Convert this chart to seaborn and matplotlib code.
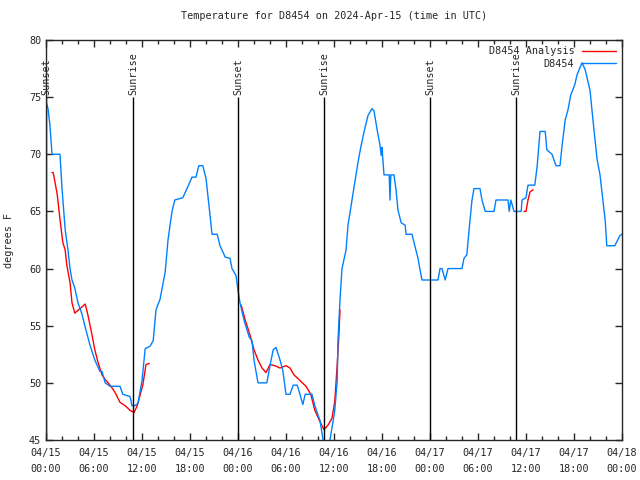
import matplotlib
matplotlib.use("Agg")
import matplotlib.pyplot as plt
from matplotlib.lines import Line2D
import seaborn as sns
import pandas as pd
import numpy as np

# hours since 2024-04-15 00:00 UTC
obs_hours = [0.0, 0.25, 0.5, 0.75, 1.75, 2.0, 2.4, 2.75, 3.0, 3.25, 3.6, 4.0, 4.5, 5.0, 5.5, 6.1, 6.75,
             7.0, 7.4, 8.0, 9.25, 9.6, 10.5, 10.75, 11.1, 11.5, 12.0, 12.4, 13.0, 13.4, 13.75, 14.25,
             14.9, 15.25, 15.75, 16.1, 17.1, 17.75, 18.25, 18.75, 19.1, 19.6, 20.0, 20.5, 20.75, 21.4,
             21.75, 22.4, 23.0, 23.25, 23.75, 24.0, 24.25, 24.75, 25.4, 25.75, 26.0, 26.5, 27.6, 28.0,
             28.4, 28.75, 29.25, 29.6, 30.0, 30.5, 30.9, 31.4, 31.75, 32.1, 32.4, 33.25, 33.6, 34.0,
             34.25, 34.5, 34.75, 35.1, 35.5, 35.9, 36.1, 36.4, 36.5, 36.75, 37.0, 37.5, 37.75, 38.25,
             38.6, 39.0, 39.4, 39.9, 40.25, 40.75, 41.0, 41.4, 41.75, 41.9, 42.0, 42.25, 42.9, 43.0,
             43.1, 43.5, 43.75, 44.0, 44.4, 44.9, 45.0, 45.75, 46.1, 46.5, 46.75, 47.0, 49.0, 49.25,
             49.5, 49.9, 50.25, 52.0, 52.25, 52.6, 52.9, 53.25, 53.5, 54.25, 54.5, 54.9, 56.0, 56.25,
             57.75, 57.9, 58.1, 58.5, 59.4, 59.5, 60.0, 60.25, 61.1, 61.4, 61.75, 62.4, 62.6, 63.25,
             63.75, 64.25, 64.5, 64.9, 65.25, 65.6, 66.1, 66.4, 67.0, 67.4, 68.0, 68.5, 68.9, 69.25,
             69.6, 69.9, 70.1, 71.1, 71.75, 72.0]
obs_temp = [74.6, 74, 72.5, 70, 70, 67, 63.4, 61.6, 60, 59, 58.3, 57, 56, 54.6, 53.3, 52, 51,
            51, 50, 49.7, 49.7, 49, 48.8, 48, 48, 48.2, 50.2, 53, 53.2, 53.7, 56.4, 57.3,
            59.7, 62.5, 65, 66, 66.2, 67.2, 68, 68, 69, 69, 67.9, 64.7, 63, 63,
            62, 61, 60.9, 60, 59.4, 58.1, 57, 55.5, 54, 53.7, 52, 50, 50, 51.5,
            52.9, 53.1, 52, 51.1, 49, 49, 49.8, 49.8, 49, 48.1, 49, 49, 48, 47.2,
            46.7, 45.6, 44.5, 44, 45, 46.7, 47.6, 50.2, 53.7, 57.3, 60, 61.6, 63.8, 66,
            67.5, 69.3, 70.8, 72.4, 73.4, 74, 73.8, 72.1, 70.8, 69.9, 70.6, 68.2, 68.2, 66,
            68.2, 68.2, 66.9, 65.1, 64, 63.8, 63, 63, 62, 60.9, 59.9, 59, 59, 60,
            60, 59, 60, 60, 60.9, 61.2, 63.5, 66, 67, 67, 66, 65, 65, 66,
            66, 65, 66, 65, 65, 66, 66.2, 67.3, 67.3, 69, 72, 72, 70.4, 70,
            69, 69, 70.7, 73, 73.9, 75.2, 76.1, 77, 78, 77.4, 75.6, 72.1, 69.5, 68.2,
            66, 64.2, 62, 62, 62.9, 63]

# analysis runs (three separate pieces)
ana_segment = [1] * 29 + [2] * 25 + [3] * 5
ana_hours = [0.75, 0.9, 1.4, 1.75, 2.1, 2.4, 2.6, 3.0, 3.25, 3.6, 4.1, 4.9, 5.25, 5.75, 6.1,
             6.5, 7.0, 7.4, 8.0, 8.6, 9.25, 9.9, 10.5, 11.0, 11.4, 11.75, 12.1, 12.5, 12.9,
             24.4, 24.9, 25.5, 26.0, 26.5, 27.0, 27.5, 28.0, 28.6, 29.25, 30.0, 30.5, 31.0,
             31.75, 32.5, 33.1, 33.6, 34.25, 34.75, 35.25, 35.75, 36.1, 36.4, 36.6, 36.75,
             59.75, 60.0, 60.25, 60.5, 60.9]
ana_temp = [68.4, 68.4, 66.5, 64.3, 62.3, 61.6, 60.3, 58.8, 57, 56.1, 56.4, 56.9, 55.9, 54.2, 52.9,
            51.8, 50.7, 50.3, 49.8, 49.2, 48.3, 48, 47.6, 47.4, 48, 48.9, 49.8, 51.6, 51.7,
            56.8, 55.5, 54.2, 52.9, 52, 51.3, 50.9, 51.6, 51.5, 51.3, 51.5, 51.3, 50.7,
            50.2, 49.7, 49, 47.6, 46.6, 45.9, 46.3, 46.9, 48.4, 51.6, 54, 56.4,
            65, 65, 66, 66.7, 66.9]

sun_hours = [0.0, 10.9, 24.0, 34.75, 48.0, 58.75]
sun_labels = ["Sunset", "Sunrise", "Sunset", "Sunrise", "Sunset", "Sunrise"]

tick_hours = [0, 6, 12, 18, 24, 30, 36, 42, 48, 54, 60, 66, 72]
tick_labels = ["04/15\n00:00", "04/15\n06:00", "04/15\n12:00", "04/15\n18:00",
               "04/16\n00:00", "04/16\n06:00", "04/16\n12:00", "04/16\n18:00",
               "04/17\n00:00", "04/17\n06:00", "04/17\n12:00", "04/17\n18:00",
               "04/18\n00:00"]

red = "#ff0000"
blue = "#0080ff"

sns.set_style("ticks")
plt.rcParams['font.family'] = ['DejaVu Sans Mono']

obs = pd.DataFrame({"hours": obs_hours, "temp": obs_temp})
ana = pd.DataFrame({"hours": ana_hours, "temp": ana_temp, "seg": ana_segment})

fig = plt.figure(figsize=(6.4, 4.8), dpi=100)
ax = fig.add_axes([46 / 640, 40 / 480, 576 / 640, 400 / 480])

sns.lineplot(data=ana, x="hours", y="temp", units="seg", estimator=None, sort=False,
             color=red, lw=1, ax=ax, legend=False)
sns.lineplot(data=obs, x="hours", y="temp", estimator=None, sort=False,
             color=blue, lw=1, ax=ax, legend=False)

for h, lab in zip(sun_hours, sun_labels):
    ax.vlines(h, 45, 75, color="black", lw=1)
    ax.text(h, 75.2, lab, rotation=90, ha="center", va="bottom", fontsize=7.3)

ax.set_xlim(0, 72)
ax.set_ylim(45, 80)
ax.set_xticks(tick_hours)
ax.set_xticklabels(tick_labels, fontsize=7.3, linespacing=1.7)
ax.set_xticks(np.arange(0, 73, 2), minor=True)
ax.set_yticks([45, 50, 55, 60, 65, 70, 75, 80])
ax.tick_params(axis="y", labelsize=7.3)
ax.tick_params(which="both", direction="in", top=True, right=True, width=1)
ax.tick_params(which="major", length=5)
ax.tick_params(which="minor", length=3)
ax.tick_params(axis="x", pad=6)
ax.set_xlabel("")
ax.set_ylabel("degrees F", fontsize=7.3, labelpad=11)
for s in ax.spines.values():
    s.set_visible(True)
    s.set_linewidth(1)
ax.set_title("Temperature for D8454 on 2024-Apr-15 (time in UTC)", fontsize=7.3, pad=15)

handles = [Line2D([], [], color=red, lw=1), Line2D([], [], color=blue, lw=1)]
ax.legend(handles, ["D8454 Analysis", "D8454"], loc="upper right", frameon=False,
          markerfirst=False, fontsize=7.3, handlelength=3.3, borderaxespad=0.2,
          labelspacing=0.25)

fig.savefig("out.png", dpi=100)
